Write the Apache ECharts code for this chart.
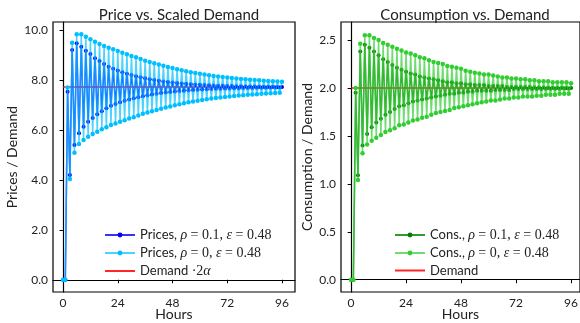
<!DOCTYPE html>
<html>
<head>
<meta charset="utf-8">
<script src="https://cdn.jsdelivr.net/npm/echarts@6/dist/echarts.min.js"></script>
<style>html,body{margin:0;padding:0;background:#fff}#c{width:580px;height:323px}</style>
</head>
<body>
<div id="c"></div>
<script>
const hours = [0,1,2,3,4,5,6,7,8,9,10,11,12,13,14,15,16,17,18,19,20,21,22,23,24,25,26,27,28,29,30,31,32,33,34,35,36,37,38,39,40,41,42,43,44,45,46,47,48,49,50,51,52,53,54,55,56,57,58,59,60,61,62,63,64,65,66,67,68,69,70,71,72,73,74,75,76,77,78,79,80,81,82,83,84,85,86,87,88,89,90,91,92,93,94,95,96];

const pricesRho01 = [0,0,7.53,4.19,9.20,5.40,9.47,5.87,9.33,6.13,9.17,6.33,9.04,6.48,8.87,6.63,8.76,6.75,8.64,6.87,8.53,6.97,8.45,7.04,8.38,7.11,8.31,7.17,8.25,7.22,8.20,7.27,8.15,7.31,8.11,7.35,8.07,7.39,8.03,7.42,8.00,7.45,7.97,7.48,7.94,7.50,7.92,7.52,7.90,7.54,7.88,7.56,7.86,7.57,7.85,7.59,7.83,7.60,7.82,7.61,7.81,7.62,7.80,7.63,7.79,7.64,7.78,7.65,7.77,7.65,7.77,7.66,7.76,7.66,7.76,7.67,7.75,7.67,7.75,7.68,7.74,7.68,7.74,7.68,7.74,7.69,7.73,7.69,7.73,7.69,7.73,7.69,7.73,7.70,7.72,7.70,7.72];

const pricesRho0 = [0,0,7.70,4.03,9.49,5.09,9.83,5.44,9.83,5.60,9.73,5.73,9.63,5.84,9.53,5.93,9.44,6.03,9.36,6.11,9.29,6.20,9.23,6.26,9.16,6.33,9.09,6.39,9.03,6.46,8.96,6.51,8.91,6.58,8.84,6.65,8.77,6.70,8.72,6.75,8.67,6.80,8.62,6.85,8.57,6.90,8.52,6.94,8.48,6.99,8.43,7.03,8.39,7.07,8.35,7.11,8.31,7.14,8.28,7.17,8.25,7.20,8.22,7.23,8.19,7.26,8.16,7.28,8.14,7.30,8.12,7.32,8.10,7.34,8.08,7.36,8.06,7.38,8.04,7.39,8.03,7.41,8.01,7.42,8.00,7.43,7.99,7.45,7.97,7.46,7.96,7.47,7.95,7.48,7.94,7.49,7.93];

const consRho01 = [0,0,1.95,1.09,2.38,1.40,2.45,1.52,2.42,1.59,2.38,1.64,2.34,1.68,2.30,1.72,2.27,1.75,2.24,1.78,2.21,1.81,2.19,1.82,2.17,1.84,2.15,1.86,2.14,1.87,2.12,1.88,2.11,1.89,2.10,1.90,2.09,1.91,2.08,1.92,2.07,1.93,2.06,1.94,2.06,1.94,2.05,1.95,2.05,1.95,2.04,1.96,2.04,1.96,2.03,1.97,2.03,1.97,2.03,1.97,2.02,1.97,2.02,1.98,2.02,1.98,2.02,1.98,2.01,1.98,2.01,1.99,2.01,1.99,2.01,1.99,2.01,1.99,2.01,1.99,2.005,1.990,2.005,1.990,2.005,1.992,2.003,1.992,2.003,1.992,2.003,1.992,2.003,1.995,2.000,1.995,2.000];

const consRho0 = [0,0,2.00,1.04,2.46,1.32,2.55,1.41,2.55,1.45,2.52,1.48,2.50,1.51,2.47,1.54,2.45,1.56,2.43,1.58,2.41,1.61,2.39,1.62,2.37,1.64,2.36,1.66,2.34,1.67,2.32,1.69,2.31,1.70,2.29,1.72,2.27,1.74,2.26,1.75,2.25,1.76,2.23,1.77,2.22,1.79,2.21,1.80,2.20,1.81,2.18,1.82,2.17,1.83,2.16,1.84,2.15,1.85,2.14,1.86,2.14,1.87,2.13,1.87,2.12,1.88,2.11,1.89,2.11,1.89,2.10,1.90,2.10,1.90,2.09,1.91,2.09,1.91,2.08,1.91,2.08,1.92,2.07,1.92,2.07,1.93,2.07,1.93,2.06,1.93,2.06,1.94,2.06,1.94,2.06,1.94,2.05];

const demandHours = [0, 96];
const demandScaled = [7.72, 7.72];
const demand = [2.0, 2.0];

const xTicks = [0, 24, 48, 72, 96];
const yTicksLeft = [0, 2, 4, 6, 8, 10];
const yTicksRight = [0, 0.5, 1.0, 1.5, 2.0, 2.5];

const N_P1 = 'Prices, rho=0.1';
const N_P0 = 'Prices, rho=0';
const N_D1 = 'Demand 2alpha';
const N_C1 = 'Cons., rho=0.1';
const N_C0 = 'Cons., rho=0';
const N_D2 = 'Demand';
const LEG = {};
LEG[N_P1] = '{s|Prices, }{i|ρ}{m| = 0.1, }{i|ε}{m| = 0.48}';
LEG[N_P0] = '{s|Prices, }{i|ρ}{m| = 0, }{i|ε}{m| = 0.48}';
LEG[N_D1] = '{s|Demand }{m|·2}{i|α}';
LEG[N_C1] = '{s|Cons., }{i|ρ}{m| = 0.1, }{i|ε}{m| = 0.48}';
LEG[N_C0] = '{s|Cons., }{i|ρ}{m| = 0, }{i|ε}{m| = 0.48}';
LEG[N_D2] = '{s|Demand}';

function pairs(xs, ys) { return xs.map((x, i) => [x, ys[i]]); }

const SANS = 'Lato';
const SERIF = 'Liberation Serif';
const rich = {
  s: {fontFamily: SANS, fontSize: 13, lineHeight: 16, color: '#222'},
  m: {fontFamily: SERIF, fontSize: 14, lineHeight: 16, color: '#222'},
  i: {fontFamily: SERIF, fontSize: 14, lineHeight: 16, fontStyle: 'italic', color: '#222'}
};

function xAxisDef(gi, min, max) {
  return {
    type: 'value', gridIndex: gi, min: min, max: max,
    name: 'Hours', nameLocation: 'middle', nameGap: 22, nameMoveOverlap: false,
    nameTextStyle: {fontFamily: SANS, fontSize: 14, lineHeight: 14, color: '#222', verticalAlign: 'middle'},
    axisLine: {show: true, lineStyle: {color: '#000', width: 1.2}},
    axisTick: {show: true, length: 3.5, lineStyle: {color: '#000', width: 1}, customValues: xTicks},
    axisLabel: {fontFamily: SANS, fontSize: 12, color: '#222', margin: 5, customValues: xTicks, formatter: v => String(v)},
    splitLine: {show: false}
  };
}
function yAxisDef(gi, min, max, ticks, name, gap) {
  return {
    type: 'value', gridIndex: gi, min: min, max: max,
    name: name, nameLocation: 'middle', nameGap: gap, nameRotate: 90,
    nameTextStyle: {fontFamily: SANS, fontSize: 14, color: '#222'},
    axisLine: {show: true, lineStyle: {color: '#000', width: 1.2}},
    axisTick: {show: true, length: 3.5, lineStyle: {color: '#000', width: 1}, customValues: ticks},
    axisLabel: {fontFamily: SANS, fontSize: 12, color: '#222', margin: 5, customValues: ticks, formatter: v => Number(v).toFixed(1)},
    splitLine: {show: false}
  };
}
function lineSeries(name, gi, xs, ys, color, lineOpacity, width, size, z) {
  return {
    name: name, type: 'line', xAxisIndex: gi, yAxisIndex: gi,
    data: pairs(xs, ys), symbol: 'circle', symbolSize: size, showSymbol: true,
    lineStyle: {color: color, opacity: lineOpacity, width: width},
    itemStyle: {color: color, opacity: 1},
    emphasis: {disabled: true}, z: z, animation: false
  };
}
function demandSeries(name, gi, ys) {
  return {
    name: name, type: 'line', xAxisIndex: gi, yAxisIndex: gi,
    data: pairs(demandHours, ys), symbol: 'none', showSymbol: false,
    lineStyle: {color: '#ff0000', opacity: 0.85, width: 1.5},
    itemStyle: {color: '#ff0000'},
    emphasis: {disabled: true}, z: 1, animation: false
  };
}
function legendDef(names, left) {
  return {
    data: [
      {name: names[0]},
      {name: names[1]},
      {name: names[2], itemStyle: {opacity: 0}}
    ],
    orient: 'vertical', left: left, top: 223, itemWidth: 30, itemHeight: 6, itemGap: 4,
    formatter: n => LEG[n], textStyle: {rich: rich}, selectedMode: false
  };
}

const chart = echarts.init(document.getElementById('c'), null, {renderer: 'canvas'});
chart.setOption({
  animation: false,
  backgroundColor: '#fff',
  title: [
    {text: 'Price vs. Scaled Demand', left: 174, top: 3, textAlign: 'center',
     textStyle: {fontFamily: SANS, fontSize: 15, fontWeight: 'normal', color: '#222'}},
    {text: 'Consumption vs. Demand', left: 460, top: 3, textAlign: 'center',
     textStyle: {fontFamily: SANS, fontSize: 15, fontWeight: 'normal', color: '#222'}}
  ],
  grid: [
    {left: 53, top: 22, width: 242, height: 270, show: true, borderColor: '#000', borderWidth: 1.2, backgroundColor: 'transparent', outerBoundsMode: 'none', containLabel: false},
    {left: 341, top: 22, width: 239, height: 270, show: true, borderColor: '#000', borderWidth: 1.2, backgroundColor: 'transparent', outerBoundsMode: 'none', containLabel: false}
  ],
  xAxis: [xAxisDef(0, -4.4, 101.7), xAxisDef(1, -4.4, 99.9)],
  yAxis: [
    yAxisDef(0, -0.49, 10.32, yTicksLeft, 'Prices / Demand', 34),
    yAxisDef(1, -0.128, 2.688, yTicksRight, 'Consumption / Demand', 27)
  ],
  legend: [legendDef([N_P1, N_P0, N_D1], 99), legendDef([N_C1, N_C0, N_D2], 389)],
  series: [
    demandSeries(N_D1, 0, demandScaled),
    lineSeries(N_P1, 0, hours, pricesRho01, '#0000ff', 0.8, 1.5, 4, 2),
    lineSeries(N_P0, 0, hours, pricesRho0, '#00bfff', 0.7, 1.5, 4.5, 3),
    demandSeries(N_D2, 1, demand),
    lineSeries(N_C1, 1, hours, consRho01, '#008000', 0.8, 1.5, 4, 2),
    lineSeries(N_C0, 1, hours, consRho0, '#32cd32', 0.7, 1.5, 4.5, 3)
  ]
});
</script>
</body>
</html>
